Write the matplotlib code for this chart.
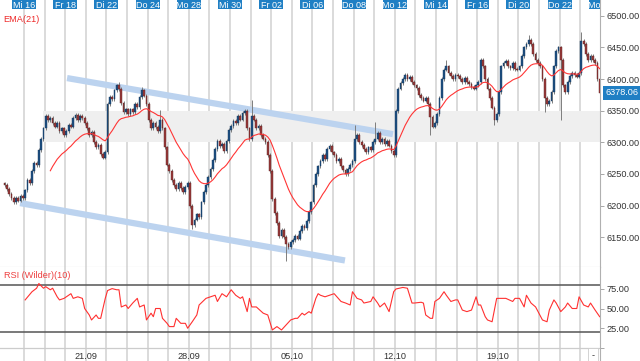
import numpy as np
import matplotlib
matplotlib.use('Agg')
import matplotlib.pyplot as plt
from matplotlib.patches import Rectangle
import matplotlib.transforms as mtransforms

plt.rcParams['font.family'] = ['Liberation Sans', 'DejaVu Sans']

# ---------------- data ----------------
candles_per_day = 9
first_open = 6235
closes_by_day = [
    [6232, 6226, 6218, 6212, 6205, 6212, 6208, 6216, 6212],  # Di 15
    [6224, 6240, 6236, 6255, 6268, 6264, 6288, 6305, 6322],  # Mi 16
    [6342, 6335, 6338, 6330, 6325, 6330, 6318, 6322, 6312],  # Do 17
    [6318, 6328, 6325, 6338, 6343, 6335, 6342, 6338, 6330],  # Fr 18
    [6322, 6312, 6316, 6300, 6292, 6296, 6282, 6276, 6285],  # Mo 21
    [6360, 6372, 6368, 6382, 6390, 6384, 6362, 6348, 6352],  # Di 22
    [6345, 6352, 6348, 6360, 6356, 6372, 6382, 6374, 6360],  # Mi 23
    [6335, 6322, 6330, 6324, 6318, 6336, 6322, 6292, 6265],  # Do 24
    [6255, 6240, 6232, 6226, 6236, 6228, 6222, 6230, 6236],  # Fr 25
    [6200, 6170, 6178, 6186, 6182, 6205, 6222, 6232, 6245],  # Mo 28
    [6258, 6272, 6290, 6302, 6294, 6298, 6286, 6302, 6320],  # Di 29
    [6326, 6334, 6330, 6342, 6336, 6346, 6350, 6322, 6305],  # Mi 30
    [6342, 6336, 6322, 6326, 6312, 6306, 6300, 6280, 6255],  # Do 01
    [6210, 6188, 6172, 6152, 6162, 6150, 6140, 6134, 6142],  # Fr 02
    [6146, 6152, 6148, 6160, 6168, 6164, 6176, 6190, 6205],  # Mo 05
    [6232, 6250, 6262, 6270, 6280, 6274, 6290, 6294, 6284],  # Di 06
    [6280, 6270, 6274, 6262, 6256, 6250, 6258, 6264, 6270],  # Mi 07
    [6305, 6312, 6300, 6296, 6290, 6284, 6292, 6288, 6300],  # Do 08
    [6306, 6315, 6300, 6306, 6298, 6302, 6295, 6286, 6280],  # Fr 09
    [6350, 6385, 6394, 6400, 6406, 6400, 6403, 6395, 6390],  # Mo 12
    [6386, 6375, 6370, 6366, 6370, 6360, 6340, 6325, 6330],  # Di 13
    [6345, 6370, 6400, 6415, 6420, 6410, 6405, 6400, 6406],  # Mi 14
    [6405, 6400, 6396, 6402, 6395, 6392, 6388, 6385, 6390],  # Do 15
    [6395, 6430, 6420, 6400, 6385, 6370, 6355, 6335, 6345],  # Fr 16
    [6380, 6420, 6425, 6428, 6420, 6418, 6425, 6416, 6415],  # Mo 19
    [6420, 6436, 6450, 6456, 6462, 6455, 6440, 6430, 6425],  # Di 20
    [6420, 6400, 6370, 6360, 6365, 6380, 6420, 6445, 6450],  # Mi 21
    [6430, 6390, 6380, 6395, 6405, 6410, 6406, 6404, 6410],  # Do 22
    [6460, 6455, 6440, 6430, 6436, 6430, 6425, 6400, 6378.06],  # Fr 23
]
# notable wick extremes: candle index -> (high, low)
wick_extremes = {
    50: (6396, None), 60: (6388, None), 68: (6351, None), 82: (None, 6163),
    108: (6367, None), 123: (None, 6112), 153: (6327, None), 162: (6332, None),
    186: (None, 6311), 193: (6430, None), 214: (None, 6328), 229: (6470, None),
    236: (None, 6348), 243: (None, 6335), 252: (6474, None),
}
# RSI (Wilder)(10): candle index -> value
rsi_idx = [9, 12, 14, 15, 17, 18, 20, 21, 23, 24, 26, 29, 30, 32, 34, 35, 37, 38, 40, 41,
           42, 44, 45, 47, 49, 50, 51, 53, 54, 56, 58, 59, 61, 62, 64, 65, 66, 68, 69, 71,
           72, 74, 75, 77, 79, 80, 82, 84, 85, 88, 90, 92, 93, 95, 97, 99, 101, 103, 104, 106,
           107, 108, 110, 113, 115, 117, 119, 121, 123, 125, 127, 128, 130, 131, 133, 134, 136, 137, 138, 140,
           142, 144, 147, 149, 151, 152, 154, 156, 157, 160, 161, 163, 164, 166, 168, 170, 171, 174, 176, 178,
           179, 182, 183, 184, 186, 187, 188, 190, 192, 193, 195, 197, 198, 200, 202, 204, 206, 207, 208, 210,
           211, 213, 215, 217, 219, 222, 223, 225, 227, 228, 230, 231, 232, 235, 237, 238, 240, 241, 243, 245,
           246, 248, 250, 251, 253, 255, 256, 258, 260]
rsi_val = [61, 71.5, 76, 82, 76, 78, 74, 76, 65, 61, 63, 69, 63, 65, 63, 50, 41.7, 35.3, 41.7, 37.4,
           37.4, 63, 73, 75.5, 74, 74, 52, 54.5, 50, 57, 63, 52, 54.5, 35.3, 44, 39.5, 50, 50, 37.4, 31,
           26.8, 26.8, 37.4, 31, 31, 24.7, 33, 41.7, 54.5, 63, 65, 67, 59, 69, 65, 74, 67, 63, 65, 46,
           63, 52, 52, 44, 41.7, 22.5, 26.8, 22.5, 29, 35.3, 37.4, 37.4, 44, 41.7, 46, 44, 63, 69, 67, 65,
           67, 69, 59, 57, 54.5, 71.5, 63, 61, 57, 59, 65, 57, 52, 57, 46, 71.5, 75, 77, 76, 57,
           57, 58, 57, 41.7, 37.4, 37.4, 59, 63, 71.5, 67, 59, 61, 61, 48, 46, 48, 65, 54.5, 54.5, 39.5,
           35.3, 33, 63, 63, 63, 59, 63, 63, 52, 67, 57, 54.5, 52, 35.3, 33, 48, 61, 57, 46, 52,
           57, 50, 50, 65, 54.5, 52, 57, 48, 39.5]
top_labels = ["Mi 16", "Fr 18", "Di 22", "Do 24", "Mo 28", "Mi 30", "Fr 02", "Di 06",
              "Do 08", "Mo 12", "Mi 14", "Fr 16", "Di 20", "Do 22", "Mo 26"]
top_label_days = [1, 3, 5, 7, 9, 11, 13, 15, 17, 19, 21, 23, 25, 27, 29]
bottom_labels = ["21.09", "28.09", "05.10", "12.10", "19.10"]
bottom_label_days = [4, 9, 14, 19, 24]
band_low, band_high = 6300, 6350
upper_channel = ([3.09, 18.91], [6401.6, 6313.0])
lower_channel = ([0.81, 16.58], [6204.0, 6113.3])
last_price = 6378.06
ema_period = 21
rsi_levels = [20, 80]

# ---------------- derived ----------------
closes = np.array([v for d in closes_by_day for v in d], float)
opens = np.concatenate([[first_open], closes[:-1]])
xs = np.array([k + (j + 0.5) / candles_per_day
               for k in range(len(closes_by_day)) for j in range(candles_per_day)])
wick_len = 3.0
highs = np.maximum(opens, closes) + wick_len
lows = np.minimum(opens, closes) - wick_len
for i, (h, l) in wick_extremes.items():
    if h is not None:
        highs[i] = h
    if l is not None:
        lows[i] = l


def ema(v, p):
    out = np.full(len(v), np.nan)
    a = 2.0 / (p + 1)
    out[p - 1] = v[:p].mean()
    for i in range(p, len(v)):
        out[i] = a * v[i] + (1 - a) * out[i - 1]
    return out


ema_vals = ema(closes, ema_period)

# ---------------- figure ----------------
W, H = 640, 361
fig = plt.figure(figsize=(6.4, 3.61), dpi=100)
main_bottom = 267
ax = fig.add_axes([0, 1 - main_bottom / H, 600 / W, main_bottom / H])
ax2 = fig.add_axes([0, 0, 600 / W, (H - main_bottom) / H], sharex=ax)

xlim = (-0.165, 28.96)
ax.set_xlim(*xlim)
ax.set_ylim(6103, 6525)
ax2.set_ylim(-17.3, 103.2)

grid_c = '#dadada'
for a in (ax, ax2):
    for k in range(1, 30):
        a.axvline(k, color=grid_c, lw=1.4, zorder=0)
    a.spines['top'].set_visible(False)
    a.spines['left'].set_visible(False)
    a.spines['right'].set_color('#b0b0b0')
    a.tick_params(axis='x', which='both', bottom=False, top=False, labelbottom=False)
    a.yaxis.tick_right()
    a.tick_params(axis='y', length=3, width=0.6, color='#999999', pad=2,
                  labelsize=6.6, labelcolor='#333333')
ax.spines['bottom'].set_color('#b8b8b8')
ax2.spines['bottom'].set_visible(False)

# grey band
bx0 = 1.92
ax.add_patch(Rectangle((bx0, band_low), xlim[1] - bx0, band_high - band_low,
                       facecolor='#efefef', edgecolor='none', zorder=0.5))

# channel lines
for cx, cy in (upper_channel, lower_channel):
    ax.plot(cx, cy, color='#bcd3ef', lw=4.5, solid_capstyle='butt', zorder=1)

# candles
up = closes >= opens
ax.vlines(xs, lows, highs, color='#7d7d7d', lw=0.7, zorder=2)
bw = 0.085
body_h = np.where(np.abs(closes - opens) < 0.8, 0.8, closes - opens)
ax.bar(xs[up], body_h[up], bottom=opens[up], width=bw, color='#1d4f82',
       edgecolor='#15385c', lw=0.3, zorder=3)
ax.bar(xs[~up], body_h[~up], bottom=opens[~up], width=bw, color='#9a3a3a',
       edgecolor='#5a2020', lw=0.3, zorder=3)

# EMA
ax.plot(xs, ema_vals, color='#ff3535', lw=0.8, zorder=4)

ax.set_yticks(np.arange(6150, 6501, 50))
ax.set_yticklabels([f"{v:.2f}" for v in np.arange(6150, 6501, 50)])

# top date labels
trans_top = mtransforms.blended_transform_factory(ax.transData, ax.transAxes)
bh = 8.5 / main_bottom
for lab, d in zip(top_labels, top_label_days):
    ax.add_patch(Rectangle((d - 0.58, 1 - bh), 1.16, bh, transform=trans_top,
                           facecolor='#1f7fc4', edgecolor='none', zorder=6, clip_on=True))
    ax.text(d, 1 - 7.8 / main_bottom, lab, transform=trans_top, ha='center', va='baseline',
            color='white', fontsize=6.5, zorder=7, clip_on=True)

ax.text(0.006, 1 - 19 / main_bottom, 'EMA(21)', transform=ax.transAxes, color='#ee2b2b',
        fontsize=6.6, va='center', ha='left', zorder=7)

# last price box
trans_r = mtransforms.blended_transform_factory(ax.transAxes, ax.transData)
ax.text(1.009, last_price, f"{last_price:.2f}", transform=trans_r, ha='left', va='center',
        color='white', fontsize=6.6, clip_on=False, zorder=8,
        bbox=dict(boxstyle='square,pad=0.28', facecolor='#1f7fc4', edgecolor='none'))

# RSI panel
ax2.axhline(0, color='#cccccc', lw=0.9, zorder=0.5)
for lv in rsi_levels:
    ax2.axhline(lv, color='#555555', lw=1.1, zorder=1)
ax2.plot(xs[rsi_idx], rsi_val, color='#ff3030', lw=0.8, zorder=3)
ax2.set_yticks([0, 25, 50, 75])
ax2.set_yticklabels(['', '25.00', '50.00', '75.00'])
ax2.text(0.006, 1 - 8.5 / (H - main_bottom), 'RSI (Wilder)(10)', transform=ax2.transAxes,
         color='#ee4040', fontsize=6.6, va='center', ha='left')
for lab, d in zip(bottom_labels, bottom_label_days):
    ax2.text(d, -10.9, lab, ha='center', va='center', fontsize=6.6, color='#333333')
ax2.text(28.63, -10.9, '-', ha='center', va='center', fontsize=6.6, color='#333333',
         bbox=dict(boxstyle='square,pad=0.35', facecolor='white', edgecolor='#cccccc', lw=0.6))

fig.savefig('out.png', dpi=100)
